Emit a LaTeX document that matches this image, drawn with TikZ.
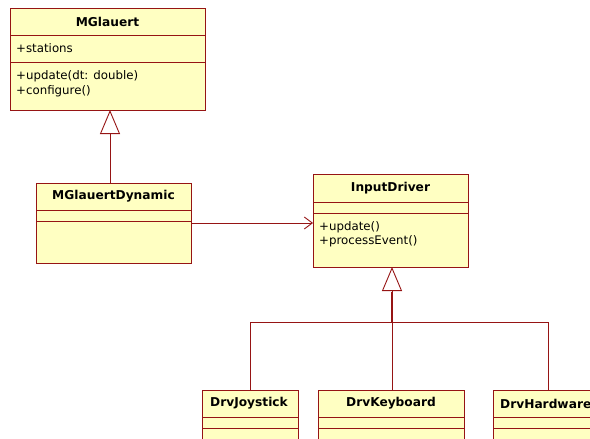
\documentclass[tikz,border=0pt]{standalone}
\usepackage{fontspec}
\setmainfont{DejaVu Sans}
\usetikzlibrary{arrows.meta,calc}
\definecolor{umlred}{RGB}{150,20,20}
\definecolor{umlfill}{RGB}{255,255,194}
\tikzset{
  cls/.style={draw=umlred, fill=umlfill, line width=0.9pt, anchor=north west, inner sep=0pt, outer sep=0pt},
  divline/.style={draw=umlred, line width=0.9pt},
  ttl/.style={font=\fontsize{12.2}{14}\selectfont\bfseries, inner sep=0pt},
  mem/.style={font=\fontsize{11.8}{14}\selectfont, inner sep=0pt, anchor=west},
  gen/.style={draw=umlred, line width=0.9pt, -{Triangle[open, length=24pt, width=20pt]}},
  genthick/.style={draw=umlred, line width=1.8pt},
  genline/.style={draw=umlred, line width=0.9pt},
  assoc/.style={draw=umlred, line width=0.9pt, -{Straight Barb[length=8pt, width=12pt, line width=0.9pt]}}
}
\begin{document}
\begin{tikzpicture}[x=1pt,y=-1pt]
\useasboundingbox (0,0) rectangle (590,439);
\clip (0,0) rectangle (590,439);
% MGlauert
\node[cls, minimum width=195pt, minimum height=102pt] (mg) at (10,8) {};
\draw[divline] (10,35) -- (205,35);
\draw[divline] (10,62) -- (205,62);
\node[ttl] (mgT) at (107.5,21.5) {MGlauert};
\node[mem] (mgA) at (16,48.5) {+stations};
\node[mem] (mgO1) at (16,76) {+update(dt: double)};
\node[mem] (mgO2) at (16,91) {+configure()};
% MGlauertDynamic
\node[cls, minimum width=155pt, minimum height=80pt] (mgd) at (36,183) {};
\draw[divline] (36,210) -- (191,210);
\draw[divline] (36,221) -- (191,221);
\node[ttl] (mgdT) at (113.5,196.5) {MGlauertDynamic};
% InputDriver
\node[cls, minimum width=155pt, minimum height=93pt] (id) at (313,174) {};
\draw[divline] (313,202) -- (468,202);
\draw[divline] (313,213) -- (468,213);
\node[ttl] (idT) at (390.5,188) {InputDriver};
\node[mem] (idO1) at (319,227) {+update()};
\node[mem] (idO2) at (319,241.5) {+processEvent()};
% Drivers
\node[cls, minimum width=96pt, minimum height=60pt] (dj) at (202,390) {};
\draw[divline] (202,417) -- (298,417);
\draw[divline] (202,428) -- (298,428);
\node[ttl] (djT) at (249,403.5) {DrvJoystick};
\node[cls, minimum width=146pt, minimum height=60pt] (dk) at (318,390) {};
\draw[divline] (318,417) -- (464,417);
\draw[divline] (318,428) -- (464,428);
\node[ttl] (dkT) at (391,403.5) {DrvKeyboard};
\node[cls, minimum width=110pt, minimum height=60pt] (dh) at (493,390) {};
\draw[divline] (493,417) -- (603,417);
\draw[divline] (493,428) -- (603,428);
\node[ttl, anchor=west] (dhT) at (500,403.5) {DrvHardware};
% generalization MGlauertDynamic -> MGlauert
\draw[gen] ([xshift=2.5pt]mgd.north -| mg.south) -- ([xshift=2.5pt]mg.south);
% association MGlauertDynamic -> InputDriver
\draw[assoc] (mgd.east) -- (mgd.east -| id.west);
% generalization tree -> InputDriver
\coordinate (jn) at (392,322);
\draw[genline] (jn) -| (dj.north);
\draw[genline] (jn) -| (dh.north);
\draw[genline] (jn) -- (jn |- dk.north);
\draw[genthick] (jn) -- (392,292);
\draw[gen] (392,292) -- ([xshift=1.5pt]id.south);
\end{tikzpicture}
\end{document}
